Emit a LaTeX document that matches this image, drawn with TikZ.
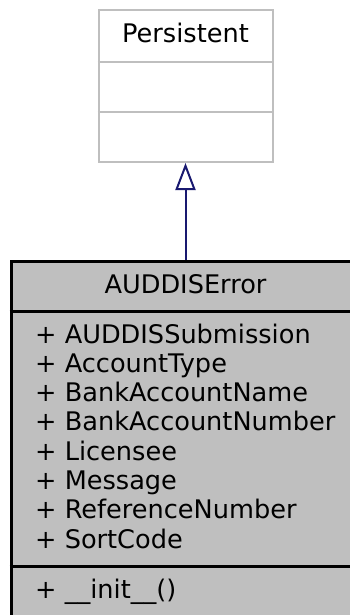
\documentclass[tikz,border=0pt]{standalone}
\usepackage{fontspec}
\setmainfont{DejaVu Sans}
\usetikzlibrary{arrows.meta}
\definecolor{boxgray}{HTML}{BFBFBF}
\definecolor{edgeblue}{HTML}{191970}
\tikzset{
  x=1pt, y=-1pt,
  classtext/.style={font=\fontsize{25.6}{29.3}\selectfont, inner sep=0pt, anchor=base},
  membertext/.style={font=\fontsize{25.6}{29.3}\selectfont, inner sep=0pt, anchor=base west},
  basebox/.style={draw=boxgray, line width=2pt, fill=white, minimum width=174pt, minimum height=152pt, inner sep=0pt},
  focusbox/.style={draw=black, line width=3pt, fill=boxgray, minimum width=349pt, minimum height=379pt, inner sep=0pt},
  inherit/.style={draw=edgeblue, line width=2pt, -{Triangle[open, length=27pt, width=20pt, line width=2pt]}}
}
\begin{document}
\begin{tikzpicture}
\useasboundingbox (0,0) rectangle (350,615);
\clip (0,0) rectangle (350,615);
% base class
\node[basebox] (persistent) at (185.5,86) {};
\draw[boxgray, line width=2pt] (persistent.west |- 0,62) -- (persistent.east |- 0,62);
\draw[boxgray, line width=2pt] (persistent.west |- 0,112) -- (persistent.east |- 0,112);
\node[classtext] (ptitle) at (185.5,43) {Persistent};
% derived class
\node[focusbox] (auddis) at (185.5,450.5) {};
\draw[black, line width=3pt] (auddis.west |- 0,311) -- (auddis.east |- 0,311);
\draw[black, line width=3pt] (auddis.west |- 0,566) -- (auddis.east |- 0,566);
\node[classtext] (atitle) at (185.5,293) {AUDDISError};
\node[membertext] (m1) at (35,343.0) {+ AUDDISSubmission};
\node[membertext] (m2) at (35,372.3) {+ AccountType};
\node[membertext] (m3) at (35,401.6) {+ BankAccountName};
\node[membertext] (m4) at (35,430.9) {+ BankAccountNumber};
\node[membertext] (m5) at (35,460.2) {+ Licensee};
\node[membertext] (m6) at (35,489.5) {+ Message};
\node[membertext] (m7) at (35,518.8) {+ ReferenceNumber};
\node[membertext] (m8) at (35,548.1) {+ SortCode};
\node[membertext] (op1) at (35,598) {+ \_\_init\_\_()};
% inheritance
\draw[inherit] (auddis.north) -- (persistent.south);
\end{tikzpicture}
\end{document}
